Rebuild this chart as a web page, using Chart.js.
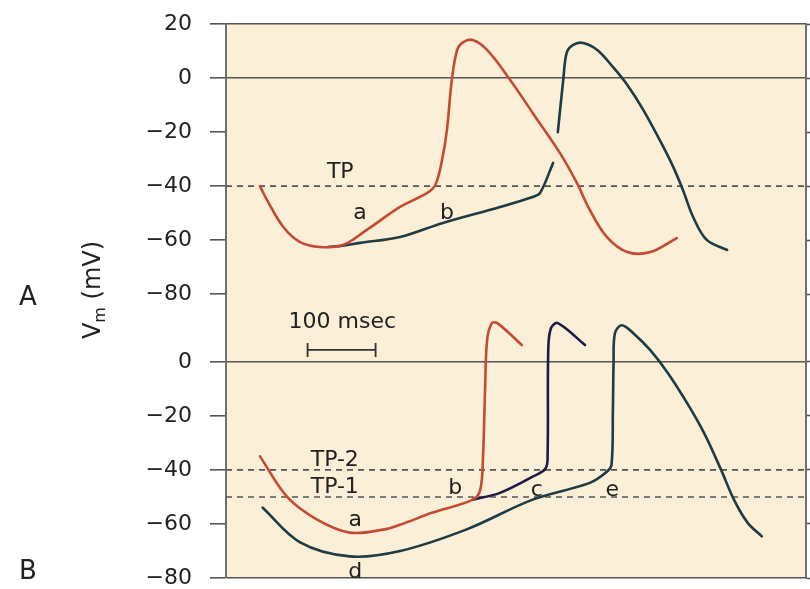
<!DOCTYPE html>
<html>
<head>
<meta charset="utf-8">
<script src="https://cdn.jsdelivr.net/npm/chart.js@4.4.1/dist/chart.umd.min.js"></script>
<style>
  html,body{margin:0;padding:0;background:#fff}
  canvas{display:block}
</style>
</head>
<body>
<canvas id="c" width="810" height="589"></canvas>
<script>
// ====== Data (time in msec, Vm in mV) ======
// panel A
const aRedT  = [50,60,84,109,138,172,207,256,296,308,318,325,332,340,349,363,384,418,451,491,516,535,560,590,624,663];
const aRedV  = [-40,-45,-55,-60.7,-62.5,-61.8,-56.2,-47.7,-42.5,-39.5,-30,-19,-1,10.4,13.3,14.1,10.4,-0.7,-12.9,-27.7,-38.8,-48.8,-58.8,-64.4,-64.4,-59.2];
const aBlueT = [150,172,197,256,319,403,451,462,481,484,488,496,501,510,525,546,569,590,613,638,657,672,687,707,737];
const aBlueV = [-62.5,-62,-61,-58.8,-53.6,-47.7,-44,-42.5,-31.4,null,-20,-0.7,9.3,12.2,13,10.4,4.1,-2.5,-11.5,-23,-32.5,-41.4,-51.4,-59.9,-63.6];
// panel B
const bRedT  = [50,90,134,182,231,256,304,363,374,378,381,384,391,399,435];
const bRedV  = [-35,-50,-58.4,-63.2,-62.1,-60.3,-55.8,-51,-47.3,-35,-10.4,8,14.3,14.3,6.2];
const bNavyT = [363,403,451,470,473,474,478,488,528];
const bNavyV = [-51,-48.5,-42.5,-39.5,-34,5,12.5,14.3,6.2];
const bTealT = [54,109,182,256,354,451,535,560,567,569,570,572,582,599,624,650,678,703,728,747,767,788];
const bTealV = [-54,-66.8,-72,-70,-62,-51,-44.8,-40.7,-38,-17.8,-0.5,10.6,13.5,10.6,4.3,-4.2,-15.2,-26.3,-39.9,-51,-59.5,-64.6];

const thresholdsA = [-40];        // TP
const thresholdsB = [-40, -50];   // TP-2, TP-1
const zeroLines   = [0];

const tickValsA = [20, 0, -20, -40, -60, -80];
const tickValsB = [0, -20, -40, -60, -80];

const T_MAX = 853;      // msec across the frame
const B_SHIFT = 105;    // panel B drawn 105 mV below panel A on the shared axis

// ====== Style ======
const PAPER = '#fbefd7';
const INK = '#222';
const LINE = '#555';
const RED = '#c44b33', TEAL = '#1f3b43', NAVY = '#1c1c46';
const FONT = '"DejaVu Sans", "Liberation Sans", sans-serif';

// ====== Build ======
const toB = v => v === null ? null : v - B_SHIFT;
const pts = (T, V, f = v => v) => T.map((t, i) => ({ x: t, y: f(V[i]) }));
const hline = u => [{ x: 0, y: u }, { x: T_MAX, y: u }];
const fmtTick = v => v < 0 ? '\u2212' + Math.abs(v) : String(v);

const ticks = [
  ...tickValsA.map(v => ({ u: v, label: fmtTick(v) })),
  ...tickValsB.map(v => ({ u: v - B_SHIFT, label: fmtTick(v) }))
];
const frameVals = [tickValsA[0], ...zeroLines, ...zeroLines.map(toB), tickValsB[tickValsB.length - 1] - B_SHIFT];

function curve(data, color){
  return { data, borderColor: color, borderWidth: 2.6, pointRadius: 0, fill: false,
           tension: 0.35, spanGaps: false, borderJoinStyle: 'round', borderCapStyle: 'round' };
}
function dashed(u){
  return { data: hline(u), borderColor: LINE, borderWidth: 1.6, borderDash: [6, 5], pointRadius: 0, fill: false };
}

const datasets = [
  curve(pts(aRedT, aRedV), RED),
  curve(pts(aBlueT, aBlueV), TEAL),
  curve(pts(bRedT, bRedV, toB), RED),
  curve(pts(bNavyT, bNavyV, toB), NAVY),
  curve(pts(bTealT, bTealV, toB), TEAL),
  ...thresholdsA.map(dashed),
  ...thresholdsB.map(v => dashed(v - B_SHIFT))
];

// text notes placed in data coords (msec, shared axis)
const notes = [
  { text: 'TP',   t: 168, u: -34.8 },
  { text: 'a',    t: 197, u: -50 },
  { text: 'b',    t: 325, u: -50 },
  { text: '100 msec', t: 171, u: -90.3 },
  { text: 'TP-2', t: 160, u: -141.3 },
  { text: 'TP-1', t: 160, u: -151.3 },
  { text: 'a',    t: 190, u: -163.5 },
  { text: 'd',    t: 190, u: -182.8 },
  { text: 'b',    t: 337, u: -151.7 },
  { text: 'c',    t: 457, u: -152.4 },
  { text: 'e',    t: 568, u: -152.4 }
];
const scaleBar = { t0: 120, len: 100, u: -100.6 };

const paperPlugin = {
  id: 'paper',
  beforeDraw(chart){
    const { ctx, chartArea: a } = chart;
    ctx.save();
    ctx.fillStyle = PAPER;
    ctx.fillRect(a.left, a.top, a.right - a.left, a.bottom - a.top);
    ctx.restore();
  },
  afterDatasetsDraw(chart){
    const { ctx } = chart;
    const xs = chart.scales.x, ys = chart.scales.y;
    ctx.save();
    ctx.fillStyle = INK;
    ctx.font = '22px ' + FONT;
    ctx.textAlign = 'center';
    ctx.textBaseline = 'middle';
    notes.forEach(n => ctx.fillText(n.text, xs.getPixelForValue(n.t), ys.getPixelForValue(n.u)));

    // 100 msec bar
    const x0 = xs.getPixelForValue(scaleBar.t0), x1 = xs.getPixelForValue(scaleBar.t0 + scaleBar.len);
    const y = ys.getPixelForValue(scaleBar.u);
    ctx.strokeStyle = '#333'; ctx.lineWidth = 1.8;
    ctx.beginPath();
    ctx.moveTo(x0, y); ctx.lineTo(x1, y);
    ctx.moveTo(x0, y - 7); ctx.lineTo(x0, y + 7);
    ctx.moveTo(x1, y - 7); ctx.lineTo(x1, y + 7);
    ctx.stroke();
    ctx.restore();
  },
  afterDraw(chart){
    const { ctx } = chart;
    const ys = chart.scales.y;
    ctx.save();
    ctx.fillStyle = INK;
    ctx.textAlign = 'center'; ctx.textBaseline = 'middle';
    ctx.font = '26px ' + FONT;
    ctx.fillText('A', 28, ys.getPixelForValue(-80) + 4);
    ctx.fillText('B', 28, ys.getPixelForValue(-185) - 6);

    // V_m (mV), rotated
    ctx.translate(94, 290);
    ctx.rotate(-Math.PI / 2);
    ctx.textAlign = 'left';
    const big = '24px ' + FONT, small = '16px ' + FONT;
    ctx.font = big; const wV = ctx.measureText('V').width, wR = ctx.measureText(' (mV)').width;
    ctx.font = small; const wm = ctx.measureText('m').width;
    let x = -(wV + wm + wR) / 2;
    ctx.font = big; ctx.fillText('V', x, 0); x += wV;
    ctx.font = small; ctx.fillText('m', x, 7); x += wm;
    ctx.font = big; ctx.fillText(' (mV)', x, 0);
    ctx.restore();
  }
};

const yTicks = scale => { scale.ticks = ticks.map(t => ({ value: t.u })); };
// keep the frame at the layout padding: drop the label overhang Chart.js adds
const fixY = w => s => { s.width = w; s.paddingTop = 0; s.paddingBottom = 0; };

new Chart(document.getElementById('c'), {
  type: 'line',
  data: { datasets },
  plugins: [paperPlugin],
  options: {
    responsive: false,
    animation: false,
    layout: { padding: { top: 24, bottom: 11, left: 0, right: 0 } },
    plugins: { legend: { display: false }, tooltip: { enabled: false } },
    scales: {
      x: { type: 'linear', min: 0, max: T_MAX, display: false },
      y: {
        type: 'linear', position: 'left', min: -185, max: 20,
        afterBuildTicks: yTicks,
        afterFit: fixY(226),
        ticks: {
          padding: 18, color: INK,
          font: { family: FONT, size: 22 },
          callback: v => (ticks.find(t => Math.abs(t.u - v) < 0.01) || {}).label
        },
        grid: {
          drawTicks: true, tickLength: 16, tickColor: LINE, tickWidth: 1.6, lineWidth: 1.6,
          color: c => frameVals.some(u => Math.abs(u - c.tick.value) < 0.01) ? LINE : 'transparent'
        },
        border: { display: true, color: '#707070', width: 2 }
      },
      y2: {
        type: 'linear', position: 'right', min: -185, max: 20,
        afterBuildTicks: yTicks,
        afterFit: fixY(4),
        ticks: { display: false },
        grid: { drawOnChartArea: false, tickLength: 6, tickColor: LINE, tickWidth: 1.6 },
        border: { display: true, color: '#707070', width: 2 }
      }
    }
  }
});
</script>
</body>
</html>
